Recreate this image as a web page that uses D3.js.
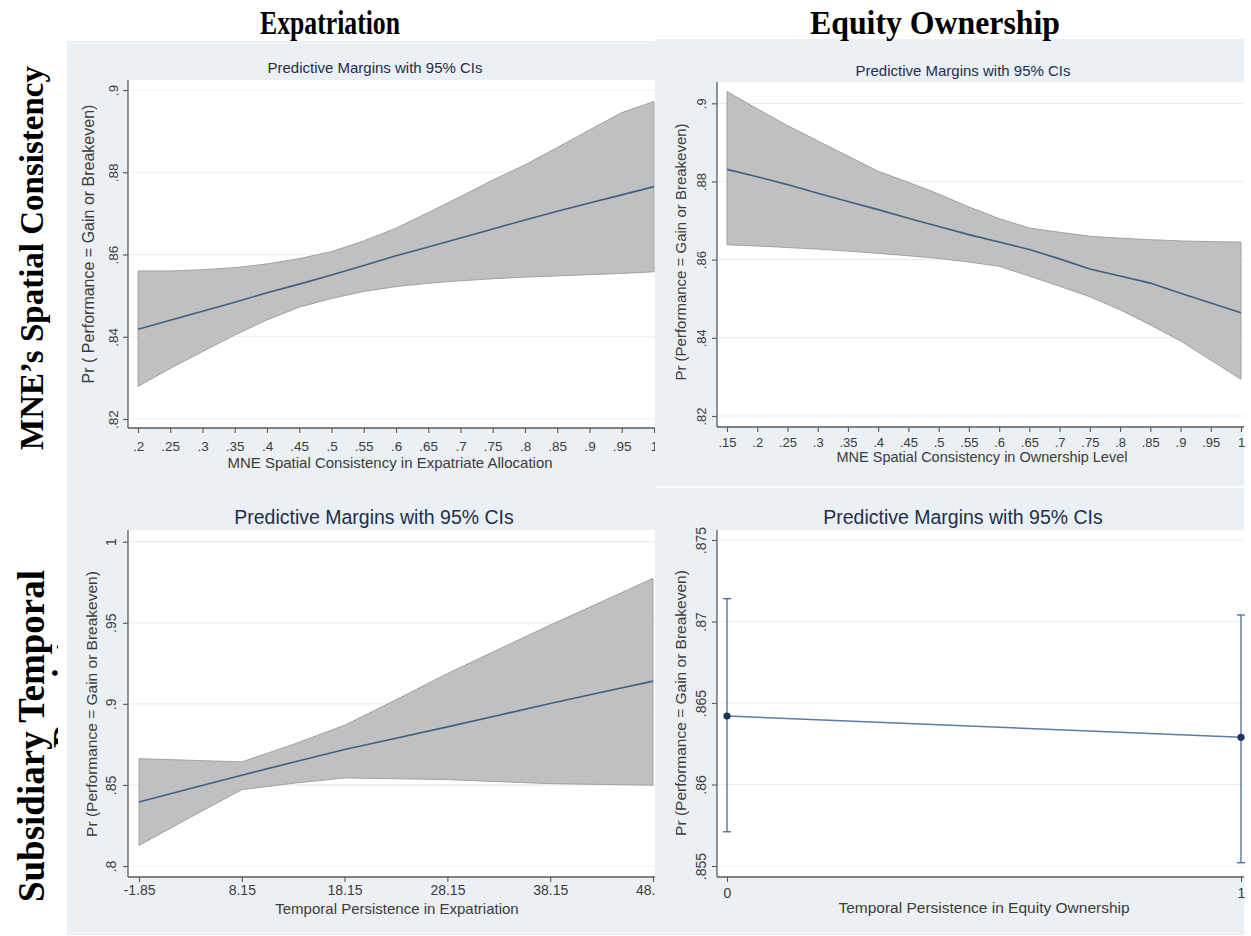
<!DOCTYPE html>
<html>
<head>
<meta charset="utf-8">
<script src="https://cdn.jsdelivr.net/npm/d3@7"></script>
<style>
  html, body { margin: 0; padding: 0; background: #ffffff; }
  svg { display: block; }
</style>
</head>
<body>
<svg id="fig" width="1251" height="936"></svg>
<script>
// ---- Spatial consistency in expatriate allocation (top left) ----
const expatSpatialX     = [0.2, 0.25, 0.3, 0.35, 0.4, 0.45, 0.5, 0.55, 0.6, 0.65, 0.7, 0.75, 0.8, 0.85, 0.9, 0.95, 1];
const expatSpatialMean  = [.8418, .8440, .8462, .8484, .8507, .8528, .8550, .8573, .8597, .8618, .8640, .8662, .8684, .8705, .8725, .8745, .8765];
const expatSpatialUpper = [.8560, .8560, .8563, .8568, .8577, .8590, .8607, .8633, .8664, .8702, .8741, .8781, .8818, .8860, .8903, .8945, .8972];
const expatSpatialLower = [.8279, .8323, .8364, .8404, .8441, .8472, .8493, .8510, .8522, .8530, .8536, .8541, .8545, .8548, .8551, .8554, .8558];
const expatSpatialXTicks = [".2", ".25", ".3", ".35", ".4", ".45", ".5", ".55", ".6", ".65", ".7", ".75", ".8", ".85", ".9", ".95", "1"];
const spatialYTicks = [".82", ".84", ".86", ".88", ".9"];

// ---- Spatial consistency in ownership level (top right) ----
const ownSpatialX     = [0.15, 0.2, 0.25, 0.3, 0.35, 0.4, 0.45, 0.5, 0.55, 0.6, 0.65, 0.7, 0.75, 0.8, 0.85, 0.9, 0.95, 1];
const ownSpatialMean  = [.8831, .8812, .8792, .8770, .8749, .8728, .8706, .8685, .8664, .8645, .8626, .8602, .8576, .8558, .8540, .8514, .8489, .8464];
const ownSpatialUpper = [.9030, .8986, .8943, .8904, .8865, .8826, .8798, .8768, .8735, .8705, .8681, .8670, .8660, .8655, .8651, .8648, .8646, .8645];
const ownSpatialLower = [.8638, .8635, .8631, .8627, .8622, .8616, .8610, .8603, .8594, .8583, .8558, .8532, .8505, .8472, .8433, .8392, .8343, .8294];
const ownSpatialXTicks = [".15", ".2", ".25", ".3", ".35", ".4", ".45", ".5", ".55", ".6", ".65", ".7", ".75", ".8", ".85", ".9", ".95", "1"];

// ---- Temporal persistence in expatriation (bottom left) ----
const expatTemporalX     = [-1.85, 3.15, 8.15, 13.15, 18.15, 23.15, 28.15, 33.15, 38.15, 43.15, 48.15];
const expatTemporalMean  = [.8395, .8478, .8560, .8640, .8718, .8788, .8858, .8930, .9002, .9071, .9140];
const expatTemporalUpper = [.8662, .8652, .8642, .8750, .8868, .9025, .9187, .9337, .9486, .9630, .9774];
const expatTemporalLower = [.8127, .8300, .8471, .8510, .8543, .8538, .8533, .8520, .8508, .8503, .8498];
const expatTemporalXTicks = ["-1.85", "8.15", "18.15", "28.15", "38.15", "48.15"];
const expatTemporalYTicks = [".8", ".85", ".9", ".95", "1"];

// ---- Temporal persistence in equity ownership (bottom right) ----
const ownTemporalX     = [0, 1];
const ownTemporalMean  = [.8642, .8629];
const ownTemporalUpper = [.8714, .8704];
const ownTemporalLower = [.8571, .8552];
const ownTemporalXTicks = ["0", "1"];
const ownTemporalYTicks = [".855", ".86", ".865", ".87", ".875"];

const panelTitle = "Predictive Margins with 95% CIs";
const yTitleA = "Pr ( Performance = Gain or Breakeven)";
const yTitleB = "Pr (Performance = Gain or Breakeven)";

const colHeaders = ["Expatriation", "Equity Ownership"];
const rowHeaders = ["MNE\u2019s Spatial Consistency", "Subsidiary Temporal", "Persistence"];

const C = {
  bg: "#eaf0f3",
  plot: "#ffffff",
  grid: "#e9eef2",
  axis: "#5a5a5a",
  tick: "#3c3c3c",
  title: "#1f2e4e",
  band: "#c0c0c0",
  bandEdge: "#9b9b9b",
  line: "#3e5f86",
  marker: "#1b3560",
  errbar: "#4a6b93"
};
const SANS = "'Liberation Sans', Arial, Helvetica, sans-serif";
const SERIF = "'Liberation Serif', 'Times New Roman', serif";

const svg = d3.select("#fig");

// Row headings (the second line of the lower one runs under the panels)
svg.append("text").attr("transform", "translate(43,258) rotate(-90)").attr("text-anchor", "middle")
  .attr("font-family", SERIF).attr("font-weight", "bold").attr("font-size", 33)
  .text(rowHeaders[0]);
svg.append("text").attr("transform", "translate(79,748) rotate(-90)").attr("text-anchor", "start")
  .attr("font-family", SERIF).attr("font-weight", "bold").attr("font-size", 37)
  .text(rowHeaders[2]);
svg.append("rect").attr("x", 58).attr("y", 480).attr("width", 10).attr("height", 456).attr("fill", "#ffffff");
svg.append("text").attr("transform", "translate(44,736) rotate(-90)").attr("text-anchor", "middle")
  .attr("font-family", SERIF).attr("font-weight", "bold").attr("font-size", 37)
  .text(rowHeaders[1]);

// Shared backdrop of the left column
svg.append("rect").attr("x", 67).attr("y", 41).attr("width", 590).attr("height", 894).attr("fill", C.bg);

function drawPanel(p) {
  const g = svg.append("g");
  if (p.backdrop) {
    g.append("rect").attr("x", p.backdrop[0]).attr("y", p.backdrop[1])
      .attr("width", p.backdrop[2]).attr("height", p.backdrop[3]).attr("fill", C.bg);
  }
  const [px0, py0, px1, py1] = p.plot;
  g.append("rect").attr("x", px0).attr("y", py0).attr("width", px1 - px0).attr("height", py1 - py0).attr("fill", C.plot);

  const x = d3.scaleLinear().domain(p.xDomain).range(p.xRange);
  const y = d3.scaleLinear().domain(p.yDomain).range(p.yRange);
  const yVals = p.yTicks.map(Number);
  const xVals = p.xTickValues;

  // light horizontal grid
  g.selectAll("line.grid").data(yVals).join("line")
    .attr("x1", px0 + 1).attr("x2", px1).attr("y1", d => y(d)).attr("y2", d => y(d))
    .attr("stroke", C.grid).attr("stroke-width", 1.2);

  const rows = p.xs.map((v, i) => ({ x: v, m: p.mean[i], lo: p.lower[i], hi: p.upper[i] }));
  if (p.kind === "band") {
    g.append("path").datum(rows)
      .attr("d", d3.area().x(d => x(d.x)).y0(d => y(d.lo)).y1(d => y(d.hi)))
      .attr("fill", C.band).attr("stroke", C.bandEdge).attr("stroke-width", 0.9);
    g.append("path").datum(rows)
      .attr("d", d3.line().x(d => x(d.x)).y(d => y(d.m)))
      .attr("fill", "none").attr("stroke", C.line).attr("stroke-width", 1.6);
  } else {
    g.append("path").datum(rows)
      .attr("d", d3.line().x(d => x(d.x)).y(d => y(d.m)))
      .attr("fill", "none").attr("stroke", "#5a7ca3").attr("stroke-width", 1.4);
    const eb = g.selectAll("g.eb").data(rows).join("g");
    eb.append("line").attr("x1", d => x(d.x)).attr("x2", d => x(d.x))
      .attr("y1", d => y(d.lo)).attr("y2", d => y(d.hi))
      .attr("stroke", C.errbar).attr("stroke-width", 1.3);
    eb.append("line").attr("x1", d => x(d.x) - 4).attr("x2", d => x(d.x) + 4)
      .attr("y1", d => y(d.lo)).attr("y2", d => y(d.lo))
      .attr("stroke", C.errbar).attr("stroke-width", 1.3);
    eb.append("line").attr("x1", d => x(d.x) - 4).attr("x2", d => x(d.x) + 4)
      .attr("y1", d => y(d.hi)).attr("y2", d => y(d.hi))
      .attr("stroke", C.errbar).attr("stroke-width", 1.3);
    eb.append("circle").attr("cx", d => x(d.x)).attr("cy", d => y(d.m)).attr("r", 3.6)
      .attr("fill", C.marker);
  }

  // y axis
  const yAxis = d3.axisLeft(y).tickValues(yVals).tickSize(5).tickFormat((d, i) => p.yTicks[i]);
  const ya = g.append("g").attr("transform", `translate(${px0},0)`).call(yAxis);
  ya.select(".domain").attr("d", `M0,${py0}V${py1}`).attr("stroke", C.axis).attr("stroke-width", 1.3);
  ya.selectAll(".tick line").attr("stroke", C.axis).attr("stroke-width", 1.1);
  ya.selectAll(".tick text")
    .attr("x", null)
    .attr("transform", `translate(${p.yLabelOffset},0) rotate(-90)`)
    .attr("text-anchor", "middle").attr("dy", "0.35em")
    .attr("font-family", SANS).attr("font-size", p.tickFont).attr("fill", C.tick);

  // x axis
  const xAxis = d3.axisBottom(x).tickValues(xVals).tickSize(5).tickFormat((d, i) => p.xTicks[i]);
  const xa = g.append("g").attr("transform", `translate(0,${py1})`).call(xAxis);
  xa.select(".domain").attr("d", `M${px0},0H${px1}`).attr("stroke", C.axis).attr("stroke-width", 1.3);
  xa.selectAll(".tick line").attr("stroke", C.axis).attr("stroke-width", 1.1);
  xa.selectAll(".tick text").attr("y", p.xLabelY).attr("dy", "0.35em")
    .attr("font-family", SANS).attr("font-size", p.tickFont).attr("fill", C.tick);

  // titles
  g.append("text").attr("x", p.titlePos[0]).attr("y", p.titlePos[1]).attr("text-anchor", "middle")
    .attr("dy", "0.35em").attr("font-family", SANS).attr("font-size", p.titleFont).attr("fill", C.title)
    .text(panelTitle);
  g.append("text").attr("x", p.xTitlePos[0]).attr("y", p.xTitlePos[1]).attr("text-anchor", "middle")
    .attr("dy", "0.35em").attr("font-family", SANS).attr("font-size", p.xTitleFont).attr("fill", C.tick)
    .text(p.xTitle);
  g.append("text").attr("transform", `translate(${p.yTitlePos[0]},${p.yTitlePos[1]}) rotate(-90)`)
    .attr("text-anchor", "middle").attr("dy", "0.35em")
    .attr("font-family", SANS).attr("font-size", p.yTitleFont).attr("fill", C.tick)
    .text(p.yTitle);
}

// Top left
drawPanel({
  kind: "band", plot: [128, 80, 656, 428],
  xDomain: [0.2, 1], xRange: [138, 654], yDomain: [0.82, 0.9], yRange: [419, 90],
  xs: expatSpatialX, mean: expatSpatialMean, upper: expatSpatialUpper, lower: expatSpatialLower,
  xTickValues: expatSpatialXTicks.map(Number), xTicks: expatSpatialXTicks, yTicks: spatialYTicks,
  yLabelOffset: -15, xLabelY: 18, tickFont: 13.5,
  titlePos: [375, 68], titleFont: 15,
  xTitle: "MNE Spatial Consistency in Expatriate Allocation", xTitlePos: [390, 463], xTitleFont: 15,
  yTitle: yTitleA, yTitlePos: [88, 244], yTitleFont: 16
});

// Bottom left
drawPanel({
  kind: "band", plot: [128, 530, 656, 877],
  xDomain: [-1.85, 48.15], xRange: [139, 653], yDomain: [0.8, 1], yRange: [866, 541.7],
  xs: expatTemporalX, mean: expatTemporalMean, upper: expatTemporalUpper, lower: expatTemporalLower,
  xTickValues: expatTemporalXTicks.map(Number), xTicks: expatTemporalXTicks, yTicks: expatTemporalYTicks,
  yLabelOffset: -17, xLabelY: 13, tickFont: 14,
  titlePos: [374, 517], titleFont: 19.5,
  xTitle: "Temporal Persistence in Expatriation", xTitlePos: [397, 909], xTitleFont: 15,
  yTitle: yTitleB, yTitlePos: [92, 704], yTitleFont: 15.5
});

// Top right
drawPanel({
  kind: "band", backdrop: [655, 39, 589, 447], plot: [717, 82, 1244, 427],
  xDomain: [0.15, 1], xRange: [727, 1241], yDomain: [0.82, 0.9], yRange: [416, 103.3],
  xs: ownSpatialX, mean: ownSpatialMean, upper: ownSpatialUpper, lower: ownSpatialLower,
  xTickValues: ownSpatialXTicks.map(Number), xTicks: ownSpatialXTicks, yTicks: spatialYTicks,
  yLabelOffset: -16, xLabelY: 15, tickFont: 13,
  titlePos: [963, 71], titleFont: 15,
  xTitle: "MNE Spatial Consistency in Ownership Level", xTitlePos: [982, 457], xTitleFont: 14.5,
  yTitle: yTitleB, yTitlePos: [681, 252], yTitleFont: 15
});

// white seam between the right-hand panels
svg.append("rect").attr("x", 656).attr("y", 486).attr("width", 588).attr("height", 2).attr("fill", "#ffffff");

// Bottom right
drawPanel({
  kind: "points", backdrop: [655, 488, 589, 447], plot: [717, 530, 1244, 877],
  xDomain: [0, 1], xRange: [727, 1241], yDomain: [0.855, 0.875], yRange: [866, 540],
  xs: ownTemporalX, mean: ownTemporalMean, upper: ownTemporalUpper, lower: ownTemporalLower,
  xTickValues: ownTemporalXTicks.map(Number), xTicks: ownTemporalXTicks, yTicks: ownTemporalYTicks,
  yLabelOffset: -16, xLabelY: 16, tickFont: 14,
  titlePos: [963, 517], titleFont: 19.5,
  xTitle: "Temporal Persistence in Equity Ownership", xTitlePos: [984, 908], xTitleFont: 15.5,
  yTitle: yTitleB, yTitlePos: [681, 703], yTitleFont: 15.5
});

// Column headings
svg.append("text").attr("x", 330).attr("y", 34).attr("text-anchor", "middle")
  .attr("font-family", SERIF).attr("font-weight", "bold").attr("font-size", 34)
  .attr("textLength", 140).attr("lengthAdjust", "spacingAndGlyphs")
  .text(colHeaders[0]);
svg.append("text").attr("x", 935).attr("y", 34).attr("text-anchor", "middle")
  .attr("font-family", SERIF).attr("font-weight", "bold").attr("font-size", 34)
  .attr("textLength", 250).attr("lengthAdjust", "spacingAndGlyphs")
  .text(colHeaders[1]);
</script>
</body>
</html>
